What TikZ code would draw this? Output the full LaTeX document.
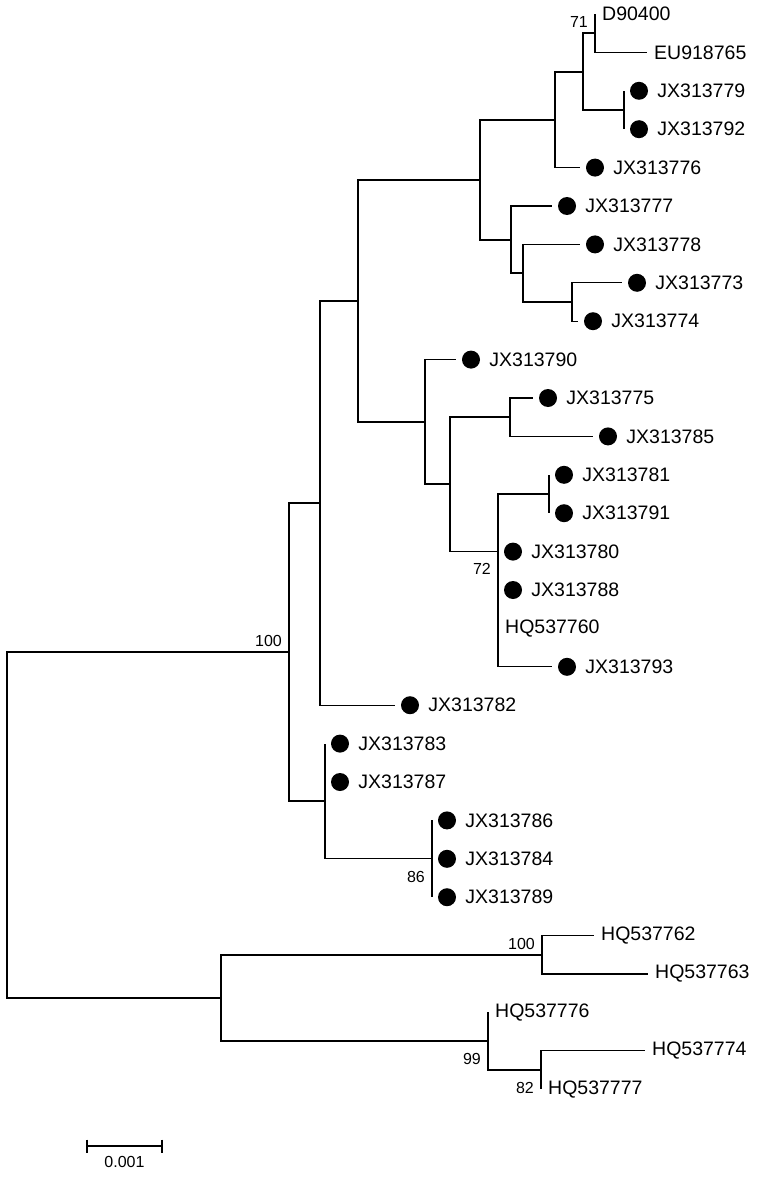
\documentclass[tikz,border=0pt]{standalone}
\usepackage{fontspec}
\setmainfont{Liberation Sans}
\usetikzlibrary{positioning}
\tikzset{
  brline/.style={line width=1.3pt},
  isolate/.style={circle, fill, minimum size=18pt, inner sep=0pt},
  taxon/.style={font=\fontsize{19.5}{22}\selectfont, inner sep=0pt, anchor=west},
  boot/.style={font=\fontsize{16}{18}\selectfont, inner sep=0pt},
  bootup/.style={boot, anchor=south east, xshift=-7pt, yshift=5pt},
  bootdn/.style={boot, anchor=north east, xshift=-7pt, yshift=-12pt},
}

\begin{document}
\begin{tikzpicture}[x=1pt, y=-1pt]
  \useasboundingbox (0,0) rectangle (758,1177);
  % internal nodes
  \coordinate (root) at (7,825);   \coordinate (a) at (289,652);
  \coordinate (b) at (320,503);    \coordinate (c) at (358,301);
  \coordinate (d) at (480,180);    \coordinate (e) at (555,120);
  \coordinate (f) at (583,72);     \coordinate (g) at (595,33);
  \coordinate (h) at (624,110);    \coordinate (i) at (511,240);
  \coordinate (j) at (523,273);    \coordinate (k) at (572,302);
  \coordinate (l) at (425,422);    \coordinate (m) at (450,484);
  \coordinate (n) at (510,417);    \coordinate (o) at (498,551.6);
  \coordinate (p) at (549,494);    \coordinate (q) at (325,801);
  \coordinate (r) at (432,858.8);  \coordinate (s) at (221,998);
  \coordinate (t) at (542,955);    \coordinate (u) at (488,1041);
  \coordinate (v) at (541,1070);
  % tips
  \coordinate (d904) at (595,14);     \coordinate (eu918) at (647,52.4);
  \coordinate (jx79) at (624,90.8);   \coordinate (jx92) at (624,129.2);
  \coordinate (jx76) at (580,167.6);  \coordinate (jx77) at (552,206);
  \coordinate (jx78) at (580,244.4);  \coordinate (jx73) at (622,282.8);
  \coordinate (jx74) at (578,321.2);  \coordinate (jx90) at (456,359.6);
  \coordinate (jx75) at (533,398);    \coordinate (jx85) at (593,436.4);
  \coordinate (jx81) at (549,474.8);  \coordinate (jx91) at (549,513.2);
  \coordinate (jx80) at (498,551.6);  \coordinate (jx88) at (498,590);
  \coordinate (hq60) at (498,628.4);  \coordinate (jx93) at (552,666.8);
  \coordinate (jx82) at (395,705.2);  \coordinate (jx83) at (325,743.6);
  \coordinate (jx87) at (325,782);    \coordinate (jx86) at (432,820.4);
  \coordinate (jx84) at (432,858.8);  \coordinate (jx89) at (432,897.2);
  \coordinate (hq62) at (594,935.6);  \coordinate (hq63) at (648,974);
  \coordinate (hq76) at (488,1012.4); \coordinate (hq74) at (645,1050.8);
  \coordinate (hq77) at (541,1089.2);
  % branches
  \draw[brline] (root) |- (a) (root) |- (s) (a) |- (b) (a) |- (q)
    (b) |- (c) (b) |- (jx82) (c) |- (d) (c) |- (l)
    (d) |- (e) (d) |- (i) (e) |- (f) (e) |- (jx76)
    (f) |- (g) (f) |- (h) (g) |- (d904) (g) |- (eu918)
    (h) |- (jx79) (h) |- (jx92) (i) |- (jx77) (i) |- (j)
    (j) |- (jx78) (j) |- (k) (k) |- (jx73) (k) |- (jx74)
    (l) |- (jx90) (l) |- (m) (m) |- (n) (m) |- (o)
    (n) |- (jx75) (n) |- (jx85) (o) |- (p) (o) |- (jx80) (o) |- (jx88)
    (o) |- (hq60) (o) |- (jx93) (p) |- (jx81) (p) |- (jx91)
    (q) |- (jx83) (q) |- (jx87) (q) |- (r)
    (r) |- (jx86) (r) |- (jx84) (r) |- (jx89)
    (s) |- (t) (s) |- (u) (t) |- (hq62) (t) |- (hq63)
    (u) |- (hq76) (u) |- (v) (v) |- (hq74) (v) |- (hq77);
  % isolates of this study
  \node[isolate] (jx79dot) at ([xshift=15pt]jx79) {}; \node[taxon, right=9pt of jx79dot] (jx79txt) {JX313779};
  \node[isolate] (jx92dot) at ([xshift=15pt]jx92) {}; \node[taxon, right=9pt of jx92dot] (jx92txt) {JX313792};
  \node[isolate] (jx76dot) at ([xshift=15pt]jx76) {}; \node[taxon, right=9pt of jx76dot] (jx76txt) {JX313776};
  \node[isolate] (jx77dot) at ([xshift=15pt]jx77) {}; \node[taxon, right=9pt of jx77dot] (jx77txt) {JX313777};
  \node[isolate] (jx78dot) at ([xshift=15pt]jx78) {}; \node[taxon, right=9pt of jx78dot] (jx78txt) {JX313778};
  \node[isolate] (jx73dot) at ([xshift=15pt]jx73) {}; \node[taxon, right=9pt of jx73dot] (jx73txt) {JX313773};
  \node[isolate] (jx74dot) at ([xshift=15pt]jx74) {}; \node[taxon, right=9pt of jx74dot] (jx74txt) {JX313774};
  \node[isolate] (jx90dot) at ([xshift=15pt]jx90) {}; \node[taxon, right=9pt of jx90dot] (jx90txt) {JX313790};
  \node[isolate] (jx75dot) at ([xshift=15pt]jx75) {}; \node[taxon, right=9pt of jx75dot] (jx75txt) {JX313775};
  \node[isolate] (jx85dot) at ([xshift=15pt]jx85) {}; \node[taxon, right=9pt of jx85dot] (jx85txt) {JX313785};
  \node[isolate] (jx81dot) at ([xshift=15pt]jx81) {}; \node[taxon, right=9pt of jx81dot] (jx81txt) {JX313781};
  \node[isolate] (jx91dot) at ([xshift=15pt]jx91) {}; \node[taxon, right=9pt of jx91dot] (jx91txt) {JX313791};
  \node[isolate] (jx80dot) at ([xshift=15pt]jx80) {}; \node[taxon, right=9pt of jx80dot] (jx80txt) {JX313780};
  \node[isolate] (jx88dot) at ([xshift=15pt]jx88) {}; \node[taxon, right=9pt of jx88dot] (jx88txt) {JX313788};
  \node[isolate] (jx93dot) at ([xshift=15pt]jx93) {}; \node[taxon, right=9pt of jx93dot] (jx93txt) {JX313793};
  \node[isolate] (jx82dot) at ([xshift=15pt]jx82) {}; \node[taxon, right=9pt of jx82dot] (jx82txt) {JX313782};
  \node[isolate] (jx83dot) at ([xshift=15pt]jx83) {}; \node[taxon, right=9pt of jx83dot] (jx83txt) {JX313783};
  \node[isolate] (jx87dot) at ([xshift=15pt]jx87) {}; \node[taxon, right=9pt of jx87dot] (jx87txt) {JX313787};
  \node[isolate] (jx86dot) at ([xshift=15pt]jx86) {}; \node[taxon, right=9pt of jx86dot] (jx86txt) {JX313786};
  \node[isolate] (jx84dot) at ([xshift=15pt]jx84) {}; \node[taxon, right=9pt of jx84dot] (jx84txt) {JX313784};
  \node[isolate] (jx89dot) at ([xshift=15pt]jx89) {}; \node[taxon, right=9pt of jx89dot] (jx89txt) {JX313789};
  % reference strains
  \node[taxon, right=7pt of d904] (d904txt) {D90400};
  \node[taxon, right=7pt of eu918] (eu918txt) {EU918765};
  \node[taxon, right=7pt of hq60] (hq60txt) {HQ537760};
  \node[taxon, right=7pt of hq62] (hq62txt) {HQ537762};
  \node[taxon, right=7pt of hq63] (hq63txt) {HQ537763};
  \node[taxon, right=7pt of hq76] (hq76txt) {HQ537776};
  \node[taxon, right=7pt of hq74] (hq74txt) {HQ537774};
  \node[taxon, right=7pt of hq77] (hq77txt) {HQ537777};
  % bootstrap
  \node[bootup] (bs71) at (g) {71};     \node[bootdn] (bs72) at (o) {72};
  \node[bootup] (bs100a) at (a) {100};  \node[bootdn] (bs86) at (r) {86};
  \node[bootup] (bs100b) at (t) {100};  \node[bootdn] (bs99) at (u) {99};
  \node[bootdn] (bs82) at (v) {82};
  % scale bar
  \coordinate (sbl) at (87,1146); \coordinate (sbr) at (162,1146);
  \draw[brline] (sbl) -- (sbr) ([yshift=6.5pt]sbl) -- ([yshift=-6.5pt]sbl) ([yshift=6.5pt]sbr) -- ([yshift=-6.5pt]sbr);
  \path (sbl) -- (sbr) node[boot, midway, below=10pt] (sbtxt) {0.001};
\end{tikzpicture}
\end{document}
